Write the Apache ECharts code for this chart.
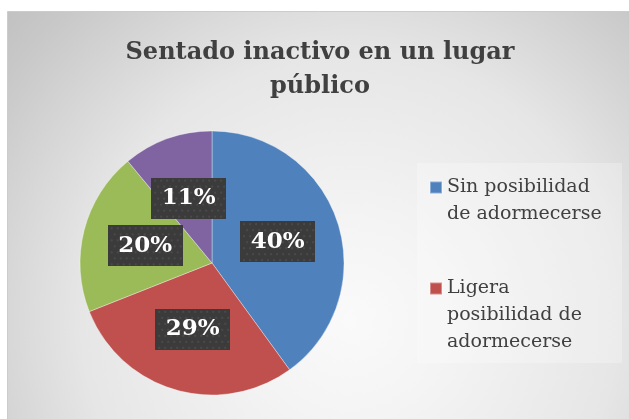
<!DOCTYPE html>
<html><head><meta charset="utf-8">
<script src="https://cdn.jsdelivr.net/npm/echarts@6/dist/echarts.min.js"></script>
<style>html,body{margin:0;padding:0;background:#fff}#c{width:629px;height:419px}</style>
</head><body><div id="c"></div>
<script>
var titleText = 'Sentado inactivo en un lugar\npúblico';
var categories = ['Sin posibilidad de adormecerse', 'Ligera posibilidad de adormecerse', 'Moderada posibilidad de adormecerse', 'Alta posibilidad de adormecerse'];
var values = [40, 29, 20, 11];
var colors = ['#4f81bd', '#c0504d', '#9bbb59', '#8064a2'];
var legendLines = ['Sin posibilidad\nde adormecerse', 'Ligera\nposibilidad de\nadormecerse'];

function makePattern(w, h) {
  var cv = document.createElement('canvas');
  cv.width = w; cv.height = h;
  var ctx = cv.getContext('2d');
  ctx.fillStyle = '#3b3b3b';
  ctx.fillRect(0, 0, w, h);
  ctx.fillStyle = '#4a4a4a';
  for (var y = 2; y < h; y += 6) {
    for (var x = 2 + ((y / 6) % 2) * 3; x < w; x += 6) {
      ctx.fillRect(x, y, 2, 2);
    }
  }
  return cv;
}
var pat = makePattern(75, 41);

// pad the legend text with empty lines so its first line sits beside the icon
function legendText(i) {
  var lines = legendLines[i].split('\n');
  var pad = [];
  for (var k = 1; k < lines.length; k++) pad.push(' ');
  return pad.concat(lines).join('\n');
}

var chart = echarts.init(document.getElementById('c'), null, {renderer: 'canvas'});
var LH = 27;
var option = {
  animation: false,
  color: colors,
  graphic: [
    {type: 'rect', z: -10, shape: {x: 7.5, y: 11.5, width: 640, height: 420},
     style: {fill: new echarts.graphic.RadialGradient(350, 320, 470, [
       {offset: 0, color: '#fafafa'}, {offset: 0.21, color: '#f4f4f4'}, {offset: 0.57, color: '#e6e6e6'},
       {offset: 0.72, color: '#d8d8d8'}, {offset: 0.89, color: '#c8c8c8'}, {offset: 1, color: '#c0c0c0'}], true),
       stroke: '#cccccc', lineWidth: 1}},
    {type: 'rect', z: -5, shape: {x: 417, y: 163, width: 205, height: 200},
     style: {fill: 'rgba(255,255,255,0.25)'}}
  ],
  title: {
    text: titleText,
    left: 320, top: 36, padding: 0, textAlign: 'center',
    textStyle: {fontFamily: 'DejaVu Serif', fontWeight: 'bold', fontSize: 24, color: '#404040', lineHeight: 34}
  },
  legend: [0, 1].map(function (i) {
    return {
      orient: 'vertical', left: 429, top: i === 0 ? 147 : 221, padding: 0,
      itemWidth: 12, itemHeight: 12, itemGap: 5, icon: 'rect',
      selectedMode: false,
      data: [categories[i]],
      formatter: function () { return legendText(i); },
      textStyle: {fontFamily: 'DejaVu Serif', fontSize: 19, color: '#404040', lineHeight: LH}
    };
  }),
  series: [{
    type: 'pie',
    center: [212, 263],
    radius: 132,
    startAngle: 90,
    clockwise: true,
    itemStyle: {borderColor: 'rgba(255,255,255,0.35)', borderWidth: 1},
    label: {
      show: true, position: 'inside',
      formatter: '{c}%',
      fontFamily: 'DejaVu Serif', fontWeight: 'bold', fontSize: 23, color: '#ffffff',
      width: 61, height: 29, lineHeight: 29, padding: [6, 7], align: 'center', overflow: 'none',
      backgroundColor: {image: pat},
      shadowColor: 'rgba(0,0,0,0.45)', shadowBlur: 5, shadowOffsetX: 2, shadowOffsetY: 3
    },
    labelLine: {show: false},
    emphasis: {disabled: true},
    data: categories.map(function (n, i) { return {name: n, value: values[i]}; })
  }]
};
chart.setOption(option);
</script></body></html>
